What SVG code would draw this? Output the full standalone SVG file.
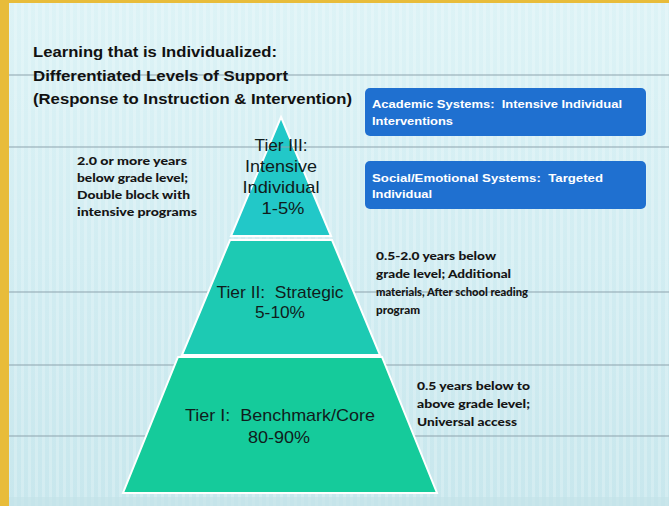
<svg xmlns="http://www.w3.org/2000/svg" width="669" height="506" viewBox="0 0 669 506" xml:space="preserve">
  <defs>
    <pattern id="stripes" width="7" height="10" patternUnits="userSpaceOnUse">
      <rect x="0" y="0" width="3" height="10" fill="#ffffff" opacity="0.2"/>
    </pattern>
    <linearGradient id="bg" x1="0" y1="0" x2="0" y2="1">
      <stop offset="0" stop-color="#ddf3f6"/>
      <stop offset="0.5" stop-color="#d2edf2"/>
      <stop offset="1" stop-color="#c8e7ed"/>
    </linearGradient>
  </defs>
  <style>
    text { white-space: pre; }
    .title { font-family: "Liberation Sans", Arial, sans-serif; font-weight: bold; font-size: 15px; fill: #111111; }
    .tier { font-family: "Liberation Sans", Arial, sans-serif; font-size: 17px; fill: #101c1c; text-anchor: middle; }
    .note { font-family: Lato, "Open Sans", sans-serif; font-weight: 900; font-size: 12px; fill: #151515; }
    .boxtext { font-family: "Liberation Sans", Arial, sans-serif; font-weight: bold; font-size: 11.5px; fill: #ffffff; }
    .hline { stroke: #8da3ad; stroke-width: 1; }
    .box { fill: #1f70d0; }
    .tiershape { stroke: #ffffff; stroke-width: 2; stroke-linejoin: miter; }
  </style>

  <!-- background -->
  <rect x="0" y="0" width="669" height="506" fill="url(#bg)"/>
  <rect x="0" y="0" width="669" height="506" fill="url(#stripes)"/>
  <rect x="0" y="497" width="669" height="9" fill="#c3e2e8" opacity="0.6"/>
  <rect x="0" y="0" width="669" height="3" fill="#e8bc3a"/>
  <rect x="0" y="0" width="9" height="506" fill="#e8bc3a"/>

  <!-- horizontal rules behind pyramid -->
  <g id="rules">
    <line class="hline" x1="9" y1="75" x2="669" y2="75"/>
    <line class="hline" x1="9" y1="292" x2="669" y2="292"/>
    <line class="hline" x1="9" y1="365" x2="669" y2="365"/>
    <line class="hline" x1="9" y1="436" x2="669" y2="436"/>
  </g>

  <g id="tier3">
    <polygon class="tiershape" points="281,117 331,236 231,236" fill="#22c8c8"/>
  </g>
  <g id="tier2">
    <polygon class="tiershape" points="230,240 332,240 380,355 182,355" fill="#1dcab3"/>
  </g>
  <g id="tier1">
    <polygon class="tiershape" points="178,357 382,357 437,493 123,493" fill="#15cb9b"/>
  </g>

  <line class="hline" x1="9" y1="147" x2="669" y2="147"/>

  <g id="title">
    <text class="title" x="33" y="57" textLength="244" lengthAdjust="spacingAndGlyphs">Learning that is Individualized:</text>
    <text class="title" x="33" y="81" textLength="255" lengthAdjust="spacingAndGlyphs">Differentiated Levels of Support</text>
    <text class="title" x="33" y="104" textLength="319" lengthAdjust="spacingAndGlyphs">(Response to Instruction &amp; Intervention)</text>
  </g>

  <g id="academic-box">
    <rect class="box" x="365" y="88" width="281" height="48" rx="5"/>
    <text class="boxtext" x="372" y="108" textLength="250" lengthAdjust="spacingAndGlyphs">Academic Systems:  Intensive Individual</text>
    <text class="boxtext" x="372" y="125" textLength="81" lengthAdjust="spacingAndGlyphs">Interventions</text>
  </g>

  <g id="social-box">
    <rect class="box" x="365" y="161" width="281" height="48" rx="5"/>
    <text class="boxtext" x="372" y="182" textLength="231" lengthAdjust="spacingAndGlyphs">Social/Emotional Systems:  Targeted</text>
    <text class="boxtext" x="372" y="198" textLength="60" lengthAdjust="spacingAndGlyphs">Individual</text>
  </g>

  <g id="tier3-label">
    <text class="tier" x="281" y="151" textLength="53" lengthAdjust="spacingAndGlyphs">Tier III:</text>
    <text class="tier" x="281" y="172" textLength="72" lengthAdjust="spacingAndGlyphs">Intensive</text>
    <text class="tier" x="281" y="193" textLength="77" lengthAdjust="spacingAndGlyphs">Individual</text>
    <text class="tier" x="283" y="214" textLength="43" lengthAdjust="spacingAndGlyphs">1-5%</text>
  </g>

  <g id="tier2-label">
    <text class="tier" x="280" y="298" textLength="127" lengthAdjust="spacingAndGlyphs">Tier II:  Strategic</text>
    <text class="tier" x="280" y="318" textLength="50" lengthAdjust="spacingAndGlyphs">5-10%</text>
  </g>

  <g id="tier1-label">
    <text class="tier" x="280" y="421" textLength="190" lengthAdjust="spacingAndGlyphs">Tier I:  Benchmark/Core</text>
    <text class="tier" x="279" y="443" textLength="62" lengthAdjust="spacingAndGlyphs">80-90%</text>
  </g>

  <g id="tier3-note">
    <text class="note" x="77" y="165" textLength="110" lengthAdjust="spacingAndGlyphs">2.0 or more years</text>
    <text class="note" x="77" y="182" textLength="111" lengthAdjust="spacingAndGlyphs">below grade level;</text>
    <text class="note" x="77" y="199" textLength="113" lengthAdjust="spacingAndGlyphs">Double block with</text>
    <text class="note" x="77" y="216" textLength="120" lengthAdjust="spacingAndGlyphs">intensive programs</text>
  </g>

  <g id="tier2-note">
    <text class="note" x="376" y="260" textLength="120" lengthAdjust="spacingAndGlyphs">0.5-2.0 years below</text>
    <text class="note" x="376" y="278" textLength="135" lengthAdjust="spacingAndGlyphs">grade level; Additional</text>
    <text class="note" x="376" y="296" textLength="152" lengthAdjust="spacingAndGlyphs">materials, After school reading</text>
    <text class="note" x="376" y="314" textLength="44" lengthAdjust="spacingAndGlyphs">program</text>
  </g>

  <g id="tier1-note">
    <text class="note" x="417" y="390" textLength="113" lengthAdjust="spacingAndGlyphs">0.5 years below to</text>
    <text class="note" x="417" y="408" textLength="113" lengthAdjust="spacingAndGlyphs">above grade level;</text>
    <text class="note" x="417" y="426" textLength="100" lengthAdjust="spacingAndGlyphs">Universal access</text>
  </g>

  <g id="connectors"></g>
</svg>
